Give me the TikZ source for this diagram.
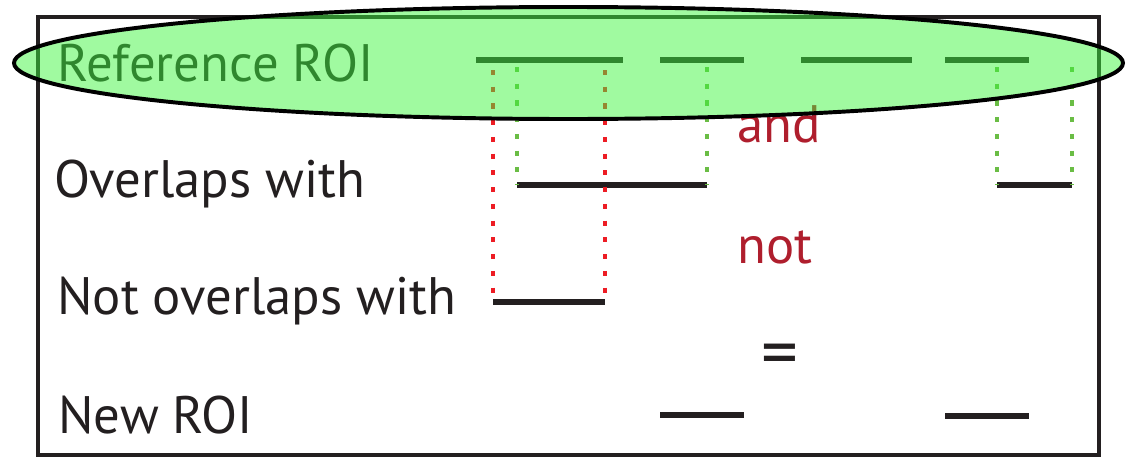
\documentclass[tikz,border=0pt]{standalone}
\usepackage{fontspec}
\setmainfont{PT Sans}
\definecolor{testo}{RGB}{35,31,32}
\definecolor{rossoscuro}{RGB}{175,30,45}
\definecolor{rossopunti}{RGB}{237,28,36}
\definecolor{verdepunti}{RGB}{106,189,69}
\definecolor{verderoi}{RGB}{61,245,61}
\begin{document}
\begin{tikzpicture}[x=0.025cm, y=-0.025cm,
    etichetta/.style={anchor=base west, inner sep=0pt, text=testo,
        font=\fontsize{37.5}{42}\selectfont},
    operatore/.style={etichetta, text=rossoscuro},
    segmento/.style={line width=3.6pt, testo},
    punti/.style={line width=2.8pt, dash pattern=on 3.6pt off 8.3pt}]
    % Parametri
    \def\yroi{60}    % riga ROI di riferimento
    \def\yover{185}  % riga sovrapposte
    \def\ynot{302}   % riga non sovrapposte
    \def\ynew{415}   % riga nuova ROI

    \useasboundingbox (0,0) rectangle (1137,467);

    % Cornice
    \draw[line width=3pt, testo] (38,17) rectangle (1099,455);

    % Etichette righe
    \node[etichetta] (rif) at (57,81) {Reference ROI};
    \node[etichetta] (sovr) at (54,197) {Overlaps with};
    \node[etichetta] (nonsovr) at (57,314) {Not overlaps with};
    \node[etichetta] (nuova) at (58,433) {New ROI};

    % Operatori
    \node[operatore] (e) at (737,142) {and};
    \node[operatore] (non) at (737,263) {not};
    \node[etichetta, anchor=center, font=\fontsize{52}{52}\selectfont] (uguale) at (780,361) {=};

    % Estremi dei segmenti
    \coordinate (r1a) at (476,\yroi);  \coordinate (r1b) at (623,\yroi);
    \coordinate (r2a) at (660,\yroi);  \coordinate (r2b) at (744,\yroi);
    \coordinate (r3a) at (801,\yroi);  \coordinate (r3b) at (912,\yroi);
    \coordinate (r4a) at (945,\yroi);  \coordinate (r4b) at (1029,\yroi);
    \coordinate (o1a) at (517,\yover); \coordinate (o1b) at (707,\yover);
    \coordinate (o2a) at (997,\yover); \coordinate (o2b) at (1072,\yover);
    \coordinate (n1a) at (493,\ynot);  \coordinate (n1b) at (605,\ynot);
    \coordinate (w1a) at (660,\ynew);  \coordinate (w1b) at (744,\ynew);
    \coordinate (w2a) at (945,\ynew+1);\coordinate (w2b) at (1029,\ynew+1);

    % Segmenti
    \foreach \s in {r1,r2,r3,r4,o1,o2,n1,w1,w2}
        \draw[segmento] (\s a) -- (\s b);

    % Proiezioni tratteggiate
    \draw[punti, rossopunti] (493,70) -- (n1a);
    \draw[punti, rossopunti] (605,70) -- (n1b);
    \draw[punti, verdepunti] (517,67) -- (o1a);
    \draw[punti, verdepunti] (707,67) -- (o1b);
    \draw[punti, verdepunti] (997,67) -- (o2a);
    \draw[punti, verdepunti] (1072,67) -- (o2b);

    % Ellisse ROI di riferimento
    \draw[line width=2.8pt, black, fill=verderoi, fill opacity=0.49]
        (568.5,63) ellipse [x radius=554.5, y radius=56];
\end{tikzpicture}
\end{document}
